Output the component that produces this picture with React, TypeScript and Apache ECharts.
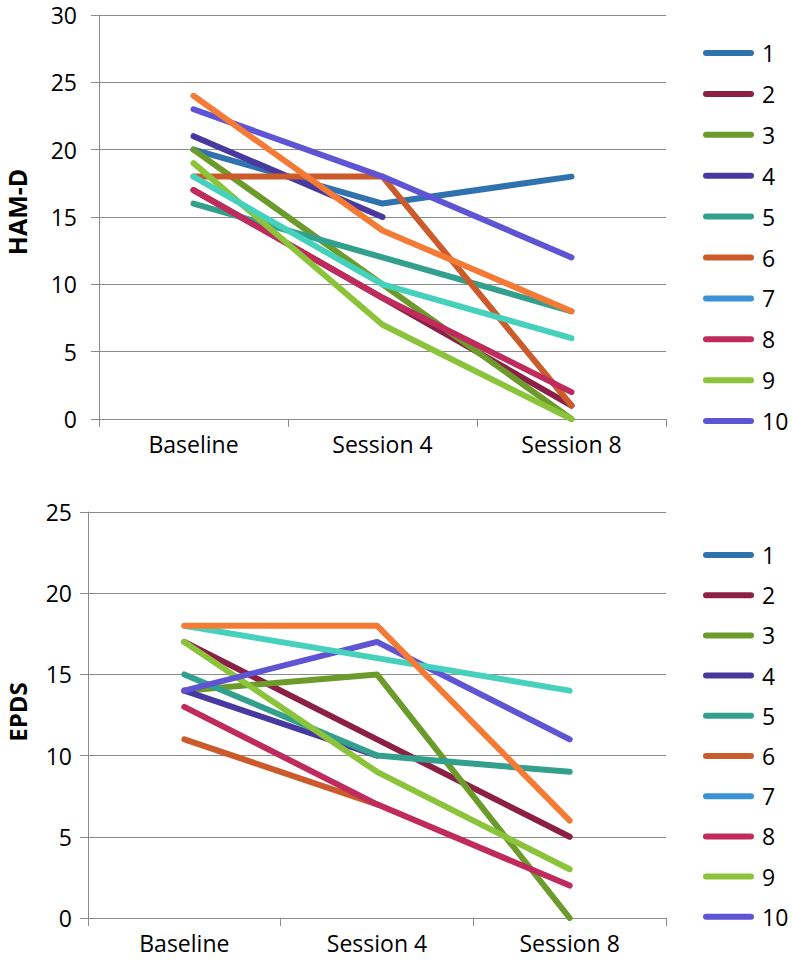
import React, { useEffect, useRef } from "react";
import * as echarts from "echarts";

const categories = ["Baseline", "Session 4", "Session 8"];
const seriesNames = ["1", "2", "3", "4", "5", "6", "7", "8", "9", "10", "11", "12"];
const legendNames = ["1", "2", "3", "4", "5", "6", "7", "8", "9", "10"];
const colors = [
  "#2F72AD", "#8B1F45", "#6B9B2A", "#48399E", "#33A08D", "#CC5B2B",
  "#3A93D8", "#BE2B5C", "#8BC43A", "#5E54D4", "#45D1BB", "#F57A35",
];

// HAM-D scores per participant
const hamd1 = [20, 16, 18];
const hamd2 = [17, 9, 1];
const hamd3 = [20, 10, 0];
const hamd4 = [21, 15, null];
const hamd5 = [16, 12, 8];
const hamd6 = [18, 18, 1];
const hamd7 = [null, null, null];
const hamd8 = [17, 9, 2];
const hamd9 = [19, 7, 0];
const hamd10 = [23, 18, 12];
const hamd11 = [18, 10, 6];
const hamd12 = [24, 14, 8];

// EPDS scores per participant
const epds1 = [null, null, null];
const epds2 = [17, 11, 5];
const epds3 = [14, 15, 0];
const epds4 = [14, 10, null];
const epds5 = [15, 10, 9];
const epds6 = [11, 7, null];
const epds7 = [null, null, null];
const epds8 = [13, 7, 2];
const epds9 = [17, 9, 3];
const epds10 = [14, 17, 11];
const epds11 = [18, 16, 14];
const epds12 = [18, 18, 6];

const hamdData = [hamd1, hamd2, hamd3, hamd4, hamd5, hamd6, hamd7, hamd8, hamd9, hamd10, hamd11, hamd12];
const epdsData = [epds1, epds2, epds3, epds4, epds5, epds6, epds7, epds8, epds9, epds10, epds11, epds12];

const FONT = "Open Sans";
const GRID_GRAY = "#8C8C8C";

export default function App() {
  const ref = useRef<HTMLDivElement>(null);

  useEffect(() => {
    if (!ref.current) return;
    const chart = echarts.init(ref.current, null, { renderer: "svg" });

    const makeX = (gridIndex: number) => ({
      type: "category",
      gridIndex,
      data: categories,
      boundaryGap: true,
      axisLine: { lineStyle: { color: GRID_GRAY, width: 1 } },
      axisTick: { show: true, length: 8, lineStyle: { color: GRID_GRAY } },
      axisLabel: { color: "#000", fontFamily: FONT, fontSize: 23, margin: 12, lineHeight: 26 },
    });
    const makeY = (gridIndex: number, max: number, margin: number) => ({
      type: "value",
      gridIndex,
      min: 0,
      max,
      interval: 5,
      axisLine: { show: true, lineStyle: { color: GRID_GRAY, width: 1 } },
      axisTick: { show: true, length: 8, lineStyle: { color: GRID_GRAY } },
      splitLine: { show: true, lineStyle: { color: GRID_GRAY, width: 1 } },
      axisLabel: { color: "#000", fontFamily: FONT, fontSize: 23, margin, lineHeight: 20 },
    });

    const lineSeries = (data: (number | null)[][], gridIdx: number) =>
      data.map((d, i) => ({
        type: "line",
        name: seriesNames[i],
        xAxisIndex: gridIdx,
        yAxisIndex: gridIdx,
        data: d,
        showSymbol: false,
        symbol: "none",
        connectNulls: false,
        color: colors[i],
        lineStyle: { width: 6, color: colors[i], cap: "round", join: "round" },
        emphasis: { disabled: true },
      }));

    const legendIcon = "path://M3,0L48,0A3,3,0,0,1,48,6L3,6A3,3,0,0,1,3,0Z";
    const makeLegend = (top: number, gap: number) => ({
      orient: "vertical",
      left: 698,
      top,
      data: legendNames,
      icon: legendIcon,
      itemWidth: 51,
      itemHeight: 6,
      itemGap: gap,
      selectedMode: false,
      textStyle: { color: "#000", fontFamily: FONT, fontSize: 23, lineHeight: 24, padding: [0, 0, 0, 3] },
    });

    chart.setOption({
      animation: false,
      backgroundColor: "#fff",
      grid: [
        { left: 99, top: 15, width: 567, height: 404 },
        { left: 88, top: 512, width: 578, height: 406 },
      ],
      xAxis: [makeX(0), makeX(1)],
      yAxis: [makeY(0, 30, 22), makeY(1, 25, 16)],
      legend: [makeLegend(36, 16.9), makeLegend(538, 16.2)],
      graphic: [
        {
          type: "text",
          x: 17,
          y: 212,
          rotation: Math.PI / 2,
          style: {
            text: "HAM-D",
            fontFamily: FONT,
            fontWeight: "bold",
            fontSize: 25,
            lineHeight: 26,
            fill: "#000",
            align: "center",
            verticalAlign: "middle",
          },
        },
        {
          type: "text",
          x: 17,
          y: 712,
          rotation: Math.PI / 2,
          style: {
            text: "EPDS",
            fontFamily: FONT,
            fontWeight: "bold",
            fontSize: 24,
            lineHeight: 26,
            fill: "#000",
            align: "center",
            verticalAlign: "middle",
          },
        },
      ],
      series: [...lineSeries(hamdData, 0), ...lineSeries(epdsData, 1)],
    });

    return () => chart.dispose();
  }, []);

  return (
    <div
      ref={ref}
      style={{ position: "fixed", left: 0, top: 0, width: 792, height: 961, background: "#fff" }}
    />
  );
}
